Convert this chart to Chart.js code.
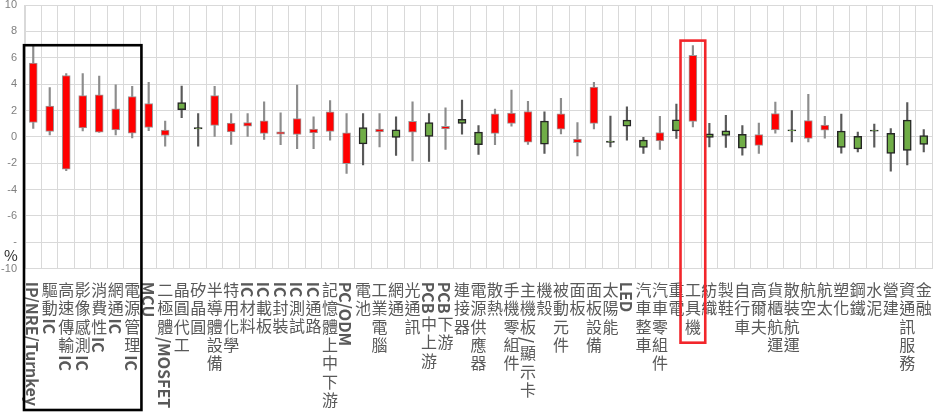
<!DOCTYPE html>
<html>
<head>
<meta charset="utf-8">
<script src="https://cdn.jsdelivr.net/npm/chart.js@4.4.1/dist/chart.umd.min.js"></script>
<style>
  html, body { margin: 0; padding: 0; background: #fff; }
  #wrap { width: 936px; height: 416px; position: relative; }
</style>
</head>
<body>
<div id="wrap"><canvas id="stockChart"></canvas></div>
<script>
const categories = ['IP/NRE/Turnkey', '驅動IC', '高速傳輸IC', '影像感測IC', '消費性IC', '網通IC', '電源管理IC',
  'MCU', '二極體/MOSFET', '晶圓代工', '矽晶圓', '半導體設備', '特用化學', 'IC材料', 'IC載板', 'IC封裝', 'IC測試',
  'IC通路', '記憶體上中下游', 'PC/ODM', '電池', '工業電腦', '網通', '光通訊', 'PCB中上游', 'PCB下游', '連接器',
  '電源供應器', '散熱', '手機零組件', '主機板/顯示卡', '機殼', '被動元件', '面板', '面板設備', '太陽能', 'LED',
  '汽車整車', '汽車零組件', '重電', '工具機', '紡織', '製鞋', '自行車', '高爾夫', '貨櫃航運', '散裝航運', '航空',
  '航太', '塑化', '鋼鐵', '水泥', '營建', '資通訊服務', '金融'];

const openVals = [1.09, 0.41, -2.45, 0.68, 0.36, 0.53, 0.28, 0.71, 0.10, 2.60, 0.71, 0.86, 0.38, 0.81, 0.26, 0.20, 0.18,
  0.30, 0.41, -2.04, 0.71, 0.38, 0.53, 0.36, 1.09, 0.61, 1.32, 0.36, 0.26, 1.02, -0.40, 1.19, 0.58, -0.45, 1.02, -0.33, 1.27,
  -0.25, -0.30, 1.29, 1.17, 0.23, 0.45, 0.20, -0.65, 0.53, 0.53, -0.12, 0.51, 0.43, 0.03, 0.52, 0.26, 1.27, 0.10];
const highVals = [7.00, 3.74, 4.80, 4.80, 4.60, 3.94, 3.84, 4.13, 1.19, 3.85, 1.77, 3.84, 1.77, 1.77, 2.65, 1.82, 3.92,
  1.52, 2.76, 1.77, 1.77, 1.77, 1.52, 2.65, 1.77, 2.20, 2.78, 0.86, 2.10, 3.54, 2.70, 1.90, 2.93, 1.09, 4.14, 1.57, 2.27,
  0.00, 1.55, 2.48, 6.92, 1.02, 1.64, 0.86, 1.04, 2.63, 2.00, 3.23, 1.55, 1.72, 0.36, 0.96, 0.63, 2.60, 0.56];
const lowVals = [0.64, 0.15, -2.57, 0.45, 0.33, 0.15, -0.08, 0.47, -0.70, 1.45, -0.70, 0.00, -0.58, 0.00, -0.20, -0.60, -0.90,
  -0.90, -0.25, -2.77, -2.12, -0.76, -1.41, -1.82, -1.86, -0.96, 0.20, -1.33, -0.60, 0.81, -0.58, -1.26, 0.23, -1.44, 0.61, -0.76, -0.25,
  -1.26, -0.96, -0.12, 0.76, -0.76, -0.80, -1.39, -1.26, 0.28, -0.38, -0.38, -0.10, -1.24, -1.14, -0.78, -2.60, -2.12, -1.14];
const closeVals = [5.60, 2.33, 4.65, 3.13, 3.18, 2.12, 3.06, 2.53, 0.51, 2.06, 0.60, 3.13, 1.04, 1.09, 1.21, 0.38, 1.39,
  0.58, 1.90, 0.30, -0.53, 0.58, -0.05, 1.17, 0.03, 0.79, 1.02, -0.60, 1.74, 1.80, 1.92, -0.55, 1.74, -0.17, 3.77, -0.42, 0.81,
  -0.80, 0.33, 0.45, 6.19, -0.05, 0.10, -0.86, 0.18, 1.77, 0.45, 1.24, 0.89, -0.80, -0.91, 0.44, -1.26, -1.03, -0.58];

const yTicks = [10, 8, 6, 4, 2, 0, -2, -4, -6, -8, -10];
const yTickLabels = ['10', '8', '6', '4', '2', '0', '-2', '-4', '-6', '-', '-10'];

const isUp = openVals.map((o, i) => closeVals[i] >= o);
const bodies = openVals.map((o, i) => [Math.min(o, closeVals[i]), Math.max(o, closeVals[i])]);
const wicks = lowVals.map((l, i) => [l, highVals[i]]);

const FONT = '"Noto Sans CJK TC", "Noto Sans CJK SC", sans-serif';

// vertical category labels: CJK stacked upright, latin runs rotated
const labelPlugin = {
  id: 'verticalLabels',
  afterDraw(chart) {
    const ctx = chart.ctx;
    const xs = chart.scales.x;
    const ys = chart.scales.y;
    ctx.save();
    ctx.fillStyle = '#595959';
    categories.forEach((lab, i) => {
      const cx = xs.getPixelForValue(i);
      let y = xs.top + 13;
      const parts = lab.match(/[\x00-\x7F]+|[^\x00-\x7F]/g);
      parts.forEach(p => {
        if (/^[\x00-\x7F]+$/.test(p)) {
          ctx.font = 'bold 16px ' + FONT;
          const w = ctx.measureText(p).width;
          ctx.save();
          ctx.translate(cx, y);
          ctx.rotate(Math.PI / 2);
          ctx.textAlign = 'left';
          ctx.textBaseline = 'middle';
          ctx.fillText(p, 0, 1);
          ctx.restore();
          y += w + 2;
        } else {
          ctx.font = '16px ' + FONT;
          ctx.textAlign = 'center';
          ctx.textBaseline = 'middle';
          ctx.fillText(p, cx, y + 8);
          y += 18.4;
        }
      });
    });

    // % unit
    ctx.fillStyle = '#262626';
    ctx.font = '15px ' + FONT;
    ctx.textAlign = 'center';
    ctx.textBaseline = 'middle';
    ctx.fillText('%', 11, ys.getPixelForValue(-10) - 13);

    // highlight boxes
    const step = xs.getPixelForValue(1) - xs.getPixelForValue(0);
    ctx.lineWidth = 2.6;
    ctx.strokeStyle = '#000';
    const bx0 = xs.getPixelForValue(0) - step / 2 - 1;
    const bx1 = xs.getPixelForValue(6) + step / 2 + 1;
    const by0 = ys.getPixelForValue(6.95);
    ctx.strokeRect(bx0, by0, bx1 - bx0, chart.height - 6 - by0);

    ctx.strokeStyle = '#f2262b';
    const r = categories.indexOf('工具機');
    const rx0 = xs.getPixelForValue(r) - step * 0.75;
    const rx1 = xs.getPixelForValue(r) + step * 0.75;
    const ry0 = ys.getPixelForValue(7.3);
    ctx.strokeRect(rx0, ry0, rx1 - rx0, xs.top + 74 - ry0);
    ctx.restore();
  }
};

new Chart(document.getElementById('stockChart'), {
  type: 'bar',
  data: {
    labels: categories,
    datasets: [
      {
        label: 'body',
        data: bodies,
        order: 0,
        grouped: false,
        barThickness: 8,
        backgroundColor: isUp.map(u => u ? '#ff0000' : '#70ad47'),
        borderColor: isUp.map(u => u ? '#9a9a9a' : '#262626'),
        borderWidth: isUp.map(u => u ? 1 : 1.5),
        borderSkipped: false
      },
      {
        label: 'wick',
        data: wicks,
        order: 1,
        grouped: false,
        barThickness: 1.5,
        backgroundColor: isUp.map(u => u ? '#8c8c8c' : '#595959'),
        borderWidth: 0
      }
    ]
  },
  plugins: [labelPlugin],
  options: {
    responsive: true,
    maintainAspectRatio: false,
    animation: false,
    layout: { autoPadding: false, padding: { top: 5, right: 4, left: 0, bottom: 0 } },
    plugins: {
      legend: { display: false },
      tooltip: { enabled: false }
    },
    scales: {
      x: {
        ticks: { display: false },
        grid: { color: '#d9d9d9', drawTicks: false, offset: true },
        border: { color: '#d9d9d9' },
        afterFit: s => { s.height = 147.3; s.paddingLeft = 0; s.paddingRight = 0; }
      },
      y: {
        min: -10,
        max: 10,
        afterBuildTicks: s => { s.ticks = yTicks.map(v => ({ value: v })); },
        ticks: {
          padding: 8,
          color: '#7f7f7f',
          font: { size: 11, family: 'Liberation Sans' },
          callback: v => yTickLabels[yTicks.indexOf(v)]
        },
        grid: { color: '#d9d9d9', drawTicks: false },
        border: { color: '#d9d9d9' },
        afterFit: s => { s.width = 25; s.paddingTop = 0; s.paddingBottom = 0; }
      }
    }
  }
});
</script>
</body>
</html>
